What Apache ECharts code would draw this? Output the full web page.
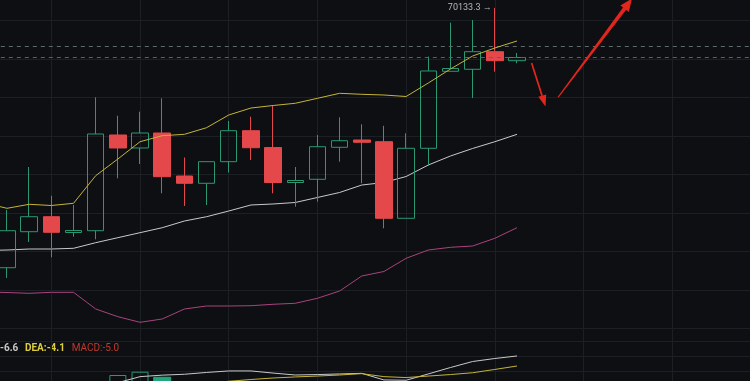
<!DOCTYPE html>
<html><head><meta charset="utf-8">
<script src="https://cdn.jsdelivr.net/npm/echarts@6/dist/echarts.min.js"></script>
<style>html,body{margin:0;padding:0;background:#0e0f12;}#c{width:750px;height:381px;}</style>
</head><body><div id="c"></div>
<script>
// ---- data ----
const categories = ['04:00','05:00','06:00','07:00','08:00','09:00','10:00','11:00','12:00','13:00','14:00','15:00',
  '16:00','17:00','18:00','19:00','20:00','21:00','22:00','23:00','00:00','01:00','02:00','03:00',
  '04:00 ','05:00 ','06:00 ','07:00 ','08:00 ','09:00 ','10:00 ','11:00 ','12:00 ','13:00 ','14:00 ','15:00 '];
const opens  = [69458.4,69551.9,69590.9,69549.9,69554.5,69803.1,69769.4,69808.3,69696.6,69677.7,69733.8,69814.3,69770.6,69679.7,69688.1,69771.2,69790.1,69785.7,69586.8,69768.6,69968.6,69973.8,70019.5,69996.1];
const closes = [69554.5,69590.9,69550.4,69555.1,69805.7,69769.4,69808.3,69694.8,69677.7,69733.8,69814.3,69770.1,69679.7,69684.9,69772.7,69788.3,69784.2,69586.8,69768.6,69969.4,69975.8,70019.5,69996.1,70004.4];
const lows   = [69431.7,69525.2,69485.5,69539.0,69532.2,69690.7,69727.8,69651.7,69618.7,69621.3,69705.7,69738.2,69651.7,69616.9,69629.9,69733.8,69677.7,69560.8,69586.8,69722.6,69968.6,69899.2,69967.5,69989.4];
const highs  = [69608.3,69720.0,69645.5,69621.3,69901.0,69853.2,69863.6,69898.4,69744.7,69733.8,69839.5,69850.6,69878.4,69720.0,69803.1,69849.1,69830.9,69827.0,69807.5,70007.0,70094.8,70101.8,70133.3,70016.1];
// Bollinger bands (first value belongs to the candle before the visible window)
const bollUpper = [69626.5,69612.7,69623.1,69620.0,69625.7,69697.4,69740.8,69785.7,69801.3,69804.9,69822.1,69855.1,69873.2,69879.7,69885.5,69898.4,69911.4,69908.8,69907.0,69903.1,69938.2,69974.5,70008.3,70029.1,70047.3];
const bollMid   = [69503.1,69504.4,69507.0,69507.0,69508.8,69523.4,69536.4,69549.4,69562.3,69579.7,69590.9,69605.7,69621.3,69623.9,69627.8,69640.8,69653.8,69673.2,69679.7,69695.3,69725.2,69748.6,69768.1,69785.7,69804.9];
const bollLower = [69395.3,69394.0,69391.9,69394.5,69394.5,69351.2,69331.2,69316.6,69325.2,69351.2,69359.0,69359.0,69359.7,69363.4,69366.0,69379.0,69397.9,69436.9,69448.6,69482.9,69504.4,69511.4,69514.8,69534.8,69562.3];
const priceLines = [70032.5, 70004.4];
const maxHigh = 70133.3;
// MACD pane
const dif  = ['-','-','-','-','-',2.7,6.7,7.7,8.3,9.5,10.5,10.5,9.1,7.8,8.1,8.5,8.9,4.5,4.3,8.5,12.8,16.8,18.8,20.5];
const dea  = ['-','-','-','-','-','-','-','-','-',2.1,3.6,4.8,5.8,6.5,7.1,7.8,8.7,6.7,6.1,7.1,8.1,9.3,11.5,13.8];
const hist = ['-','-','-','-','-',7.8,10.0,6.3,'-','-','-','-','-','-','-','-','-','-','-','-','-','-','-','-'];
const macdText = {dif:'-6.6', dea:'DEA:-4.1', macd:'MACD:-5.0'};

// ---- build ----
const TRAIL = 11;
const tail = Array(TRAIL).fill('-');
const candleData = ['-'].concat(opens.map((o,i)=>[o, closes[i], lows[i], highs[i]]), tail);
const padLine = a => a.concat(tail);
const padM = a => ['-'].concat(a, tail);
const GREEN = '#2b9872', RED = '#e5484b', GRID = '#1c1f23', BG = '#0e0f12';
const histData = padM(hist).map((v,i,arr)=>{
  if (v==='-') return v;
  const prev = arr[i-1];
  const filled = prev!=='-' && v < prev;
  return {value:v, itemStyle: filled ? {color:'#22a57a', borderColor:'#22a57a'} : {color:'rgba(0,0,0,0)', borderColor:GREEN, borderWidth:1}};
});

const chart = echarts.init(document.getElementById('c'), null, {renderer:'canvas'});
const xBase = {type:'category', data:categories, boundaryGap:false,
  axisLine:{show:false}, axisTick:{show:false}, axisLabel:{show:false},
  splitLine:{show:true, interval:(i)=> i%4===3, lineStyle:{color:GRID, width:1}}};
chart.setOption({
  backgroundColor: BG,
  animation:false,
  grid:[
    {left:-15.17, right:-10.9, top:-17.8, bottom:381-328.7, outerBoundsMode:'none', containLabel:false},
    {left:-15.17, right:-10.9, top:328.7, bottom:-20.7, outerBoundsMode:'none', containLabel:false}
  ],
  xAxis:[Object.assign({gridIndex:0}, xBase), Object.assign({gridIndex:1}, xBase)],
  yAxis:[
    {gridIndex:0, type:'value', min:69300, max:70200, interval:100,
      axisLine:{show:false}, axisTick:{show:false}, axisLabel:{show:false},
      splitLine:{lineStyle:{color:GRID, width:1}}},
    {gridIndex:1, type:'value', min:-10, max:38.67, interval:10,
      axisLine:{show:false}, axisTick:{show:false}, axisLabel:{show:false},
      splitLine:{lineStyle:{color:GRID, width:1}}}
  ],
  series:[
    {type:'line', data:padLine(bollMid), symbol:'none', lineStyle:{color:'#c9c9cc', width:1}, z:3},
    {type:'line', data:padLine(bollLower), symbol:'none', lineStyle:{color:'#a8447f', width:1}, z:3},
    {type:'candlestick', data:candleData, barWidth:17, z:4,
      itemStyle:{color:'rgba(0,0,0,0)', color0:RED, borderColor:GREEN, borderColor0:RED, borderWidth:1},
      markLine:{silent:true, symbol:'none', label:{show:false},
        data:[
          {yAxis:priceLines[0], lineStyle:{color:'#5d6a6c', type:[4,4], width:1}},
          {yAxis:priceLines[1], lineStyle:{color:'#2f7a5e', type:[4,4], width:1}}
        ]},
      markPoint:{silent:true, symbol:'circle', symbolSize:0,
        data:[{coord:[categories[23], maxHigh], value:maxHigh}],
        label:{show:true, position:'left', distance:3, formatter:(p)=> p.value.toFixed(1)+' →',
          color:'#b4b8bf', fontSize:9, fontFamily:'Roboto'}}
    },
    {type:'line', data:padLine(bollUpper), symbol:'none', lineStyle:{color:'#c4b43a', width:1}, z:5},
    {type:'bar', xAxisIndex:1, yAxisIndex:1, data:histData, barWidth:17},
    {type:'line', xAxisIndex:1, yAxisIndex:1, data:padM(dif), symbol:'none', lineStyle:{color:'#c9c9cc', width:1}},
    {type:'line', xAxisIndex:1, yAxisIndex:1, data:padM(dea), symbol:'none', lineStyle:{color:'#c4b43a', width:1}}
  ],
  graphic:[
    {type:'text', left:0, top:342, style:{text:'{a|'+macdText.dif+'}  {b|'+macdText.dea+'}  {c|'+macdText.macd+'}',
      rich:{a:{fill:'#c8c8c8', fontSize:10, fontWeight:'bold', fontFamily:'Roboto'},
            b:{fill:'#e0cf3c', fontSize:10, fontWeight:'bold', fontFamily:'Roboto'},
            c:{fill:'#c0392f', fontSize:10, fontFamily:'Roboto'}}}},
    // red annotation arrows
    {type:'polygon', shape:{points:[[530.8,63.2],[532.4,62.8],[542.9,95.6],[541.3,96.2]]}, style:{fill:'#e3261d'}, z:100},
    {type:'polygon', shape:{points:[[545.5,106.5],[538.3,96.8],[546.2,94.6]]}, style:{fill:'#e3261d'}, z:100},
    {type:'polygon', shape:{points:[[557.6,97],[558.6,97.4],[626.4,9.5],[623.2,7.3]]}, style:{fill:'#e3261d'}, z:100},
    {type:'polygon', shape:{points:[[632,-1.5],[628.8,12],[620.4,5.6]]}, style:{fill:'#e3261d'}, z:100}
  ]
});
</script></body></html>
